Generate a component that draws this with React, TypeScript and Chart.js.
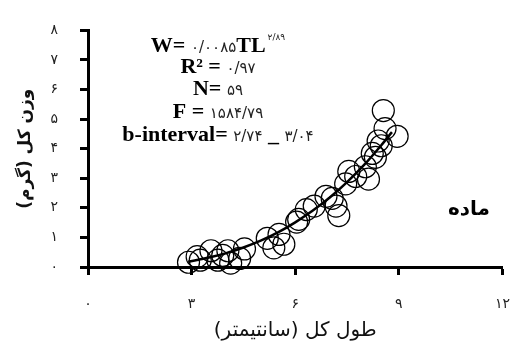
import React, { useEffect, useRef } from "react";
import { Chart, registerables } from "chart.js";

Chart.register(...registerables);

// Observed fish: total length (cm) and total weight (g)
const lengthCm = [2.91, 3.16, 3.25, 3.56, 3.76, 3.9, 4.05, 4.13, 4.39, 4.53, 5.19, 5.38, 5.53, 5.67, 6.04, 6.1, 6.32, 6.55, 6.89, 7.07, 7.18, 7.26, 7.46, 7.55, 7.75, 8.03, 8.12, 8.23, 8.32, 8.4, 8.49, 8.6, 8.95, 8.55];
const weightG = [0.16, 0.35, 0.23, 0.55, 0.23, 0.39, 0.55, 0.13, 0.29, 0.61, 0.97, 0.65, 1.1, 0.77, 1.52, 1.61, 1.94, 2.06, 2.39, 2.32, 2.06, 1.74, 2.81, 3.23, 3.06, 3.39, 2.97, 3.84, 3.71, 4.26, 4.1, 4.68, 4.42, 5.29];

// Fitted power curve
const curveLength = [2.9, 3.5, 4, 4.5, 5, 5.5, 6, 6.5, 7, 7.5, 8, 8.5, 8.8];
const curveWeight = [0.18, 0.32, 0.47, 0.66, 0.89, 1.17, 1.51, 1.9, 2.35, 2.87, 3.46, 4.13, 4.56];

const xTickLabels = ["۰", "۳", "۶", "۹", "۱۲"];
const yTickLabels = ["۰", "۱", "۲", "۳", "۴", "۵", "۶", "۷", "۸"];

const xTitle = "طول کل (سانتیمتر)";
const yTitle = "وزن کل (گرم)";
const sexLabel = "ماده";
const eqMain = "W= ۰/۰۰۸۵TL";
const eqSup = "۲/۸۹";
const statLines = ["R² = ۰/۹۷", "N= ۵۹", "F = ۱۵۸۴/۷۹", "b-interval= ۲/۷۴ _ ۳/۰۴"];

const LATIN_FONT = "bold 22px 'Liberation Serif', serif";
const DIGIT_FONT = "15px 'DejaVu Sans', sans-serif";

function setRunFont(ctx: any, digits: boolean) {
  ctx.font = digits ? DIGIT_FONT : LATIN_FONT;
  ctx.letterSpacing = digits ? "2.5px" : "0px";
}

function runsOf(text: string) {
  return text.split(/([۰-۹][۰-۹\/]*)/).filter((s) => s.length > 0).map((s) => ({ s, d: /^[۰-۹]/.test(s) }));
}

function measureMixed(ctx: any, text: string) {
  let w = 0;
  for (const r of runsOf(text)) {
    setRunFont(ctx, r.d);
    w += ctx.measureText(r.s).width;
  }
  return w;
}

function drawMixed(ctx: any, text: string, x: number, baseline: number) {
  let cur = x;
  for (const r of runsOf(text)) {
    setRunFont(ctx, r.d);
    ctx.fillStyle = r.d ? "#222" : "#000";
    ctx.fillText(r.s, cur, baseline);
    cur += ctx.measureText(r.s).width;
  }
  return cur;
}

const annotationPlugin = {
  id: "annots",
  afterDraw(chart: any) {
    const ctx = chart.ctx;
    ctx.save();
    ctx.textBaseline = "alphabetic";
    ctx.textAlign = "left";
    const cx = 218;
    const supFont = "9px 'DejaVu Sans', sans-serif";
    const w1 = measureMixed(ctx, eqMain);
    ctx.font = supFont;
    ctx.letterSpacing = "1px";
    const w2 = ctx.measureText(eqSup).width;
    const start = cx - (w1 + w2 + 2) / 2;
    const end = drawMixed(ctx, eqMain, start, 52);
    ctx.font = supFont;
    ctx.letterSpacing = "1px";
    ctx.fillStyle = "#222";
    ctx.fillText(eqSup, end + 2, 40);
    const ys = [73, 95, 118, 141];
    statLines.forEach((t, i) => {
      const w = measureMixed(ctx, t);
      drawMixed(ctx, t, cx - w / 2, ys[i]);
    });
    ctx.letterSpacing = "0px";
    ctx.textAlign = "center";
    ctx.textBaseline = "middle";
    ctx.fillStyle = "#000";
    ctx.font = "bold 20px 'DejaVu Sans', sans-serif";
    ctx.fillText(sexLabel, 469, 210);
    ctx.restore();
  },
};

export default function App() {
  const ref = useRef<HTMLCanvasElement | null>(null);
  useEffect(() => {
    if (!ref.current) return;
    const chart = new Chart(ref.current, {
      type: "scatter",
      data: {
        datasets: [
          {
            type: "line",
            data: curveLength.map((x, i) => ({ x, y: curveWeight[i] })),
            borderColor: "#000",
            borderWidth: 2.5,
            pointRadius: 0,
            tension: 0.3,
            fill: false,
            clip: false,
          } as any,
          {
            data: lengthCm.map((x, i) => ({ x, y: weightG[i] })),
            pointStyle: "circle",
            pointRadius: 11,
            borderColor: "#000",
            borderWidth: 1.2,
            backgroundColor: "rgba(0,0,0,0)",
            clip: false,
          } as any,
        ],
      },
      options: {
        responsive: false,
        animation: false,
        layout: { padding: { top: 19, right: 23, left: 0, bottom: 0 } },
        plugins: { legend: { display: false }, tooltip: { enabled: false } },
        scales: {
          x: {
            type: "linear",
            min: 0,
            max: 12,
            afterFit: (s: any) => { s.height = 76; },
            border: { color: "#000", width: 3 },
            grid: { drawOnChartArea: false, drawTicks: true, tickLength: 8, tickWidth: 3, tickColor: "#000" },
            ticks: {
              stepSize: 3,
              padding: 21,
              color: "#222",
              font: { family: "'DejaVu Sans', sans-serif", size: 14 },
              callback: (v: any) => xTickLabels[Math.round(Number(v) / 3)] ?? "",
            },
            title: {
              display: true,
              text: xTitle,
              color: "#111",
              font: { family: "'DejaVu Sans', sans-serif", size: 20 },
              padding: { top: 0, bottom: 0 },
            },
          },
          y: {
            type: "linear",
            min: 0,
            max: 8,
            afterFit: (s: any) => { s.width = 88; },
            border: { color: "#000", width: 3 },
            grid: { drawOnChartArea: false, drawTicks: true, tickLength: 8, tickWidth: 3, tickColor: "#000" },
            ticks: {
              stepSize: 1,
              padding: 22,
              color: "#222",
              font: { family: "'DejaVu Sans', sans-serif", size: 14 },
              callback: (v: any) => yTickLabels[Math.round(Number(v))] ?? "",
            },
            title: {
              display: true,
              text: yTitle,
              color: "#111",
              font: { family: "'DejaVu Sans', sans-serif", size: 17, weight: "bold" },
              padding: { top: 15, bottom: 0 },
            },
          },
        },
      },
      plugins: [annotationPlugin],
    });
    return () => chart.destroy();
  }, []);
  return (
    <div style={{ position: "fixed", left: 0, top: 0, width: 531, height: 343, background: "#fff" }}>
      <canvas ref={ref} width={531} height={343} />
    </div>
  );
}
